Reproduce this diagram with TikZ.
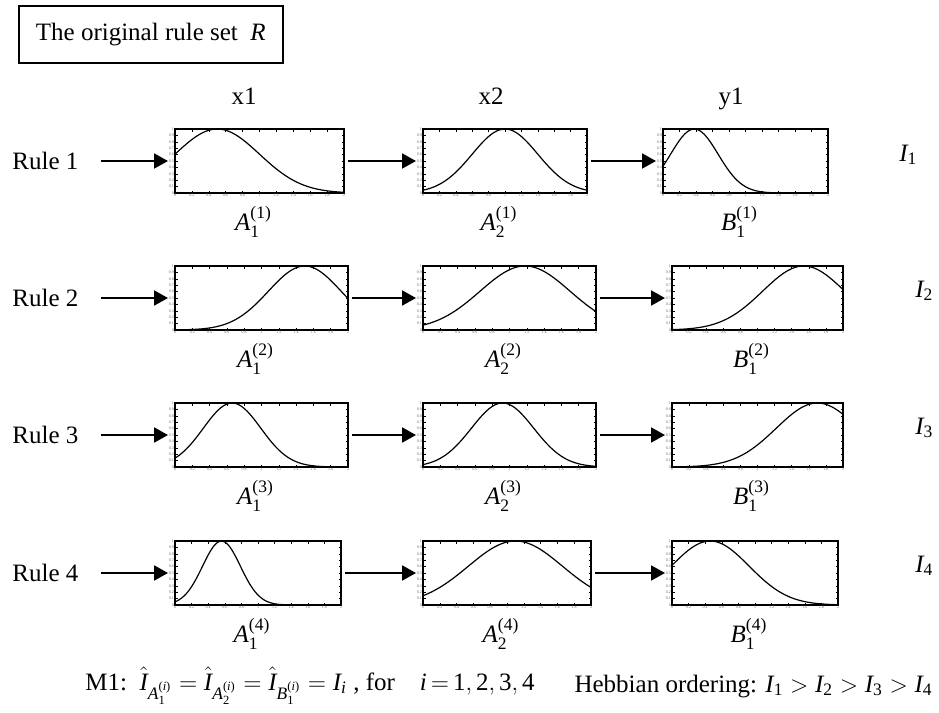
\documentclass[tikz,border=0pt]{standalone}
\usepackage{amsmath}
\usepackage{fontspec}
\setmainfont{Liberation Serif}
\usetikzlibrary{positioning,calc,arrows.meta}
\tikzset{>={Triangle[length=7pt,width=7.5pt]}}
\tikzset{plotframe/.style={line width=0.9pt}}
\tikzset{gcurve/.style={line width=0.6pt}}
\tikzset{flow/.style={->,line width=1pt}}
\tikzset{lbl/.style={font=\fontsize{12.5}{15}\selectfont,inner sep=0pt}}
\tikzset{ticklbl/.style={font=\fontsize{2}{2}\selectfont,text=black!60,inner sep=0.4pt}}
\newcommand{\tv}[1]{\text{\itshape #1}}
\newcommand{\tr}[1]{\text{#1}}

% #1 name, #2 left, #3 right, #4 top, #5 peak, #6 spread, #7 label
\newcommand{\mfplot}[7]{%
  \draw[plotframe] (#2,#4) rectangle (#3,#4+64);
  \foreach \k in {1,...,9}{
    \draw[line width=0.3pt] ({#2+(#3-#2)*\k/10},#4) -- ++(0,2.5) ({#2+(#3-#2)*\k/10},#4+64) -- ++(0,-2.5);
    \draw[line width=0.3pt] (#2,{#4+6.4*\k}) -- ++(2.5,0) (#3,{#4+6.4*\k}) -- ++(-2.5,0);
  }
  \foreach \t [count=\k from 0] in {0,0.2,0.4,0.6,0.8,1,1.2,1.4,1.6,1.8,2}
    \node[ticklbl,below] (#1-x\k) at ({#2+(#3-#2)*\k/10},#4+64) {\t};
  \foreach \t [count=\k from 0] in {1,0.9,0.8,0.7,0.6,0.5,0.4,0.3,0.2,0.1,0}
    \node[ticklbl,left] (#1-y\k) at (#2,{#4+6.4*\k}) {\t};
  \draw[gcurve] plot[domain=0:1,samples=61,smooth]
    ({#2+(#3-#2)*\x},{#4+64*(1-exp(-(\x-#5)*(\x-#5)/(2*#6*#6)))});
  \coordinate (#1-in) at (#2-7,#4+32);
  \coordinate (#1-out) at (#3+4,#4+32);
  \node[lbl] (#1-lab) at ({(#2+#3)/2-6},#4+93) {#7};
}

\begin{document}
\begin{tikzpicture}[x=0.5pt,y=-0.5pt]
\useasboundingbox (0,0) rectangle (939,713);

\node[draw,line width=0.9pt,lbl,anchor=west,minimum height=28.5pt,inner xsep=8.5pt] (title) at (18,34.5) {The original rule set\ \ $\tv{R}$};

\node[lbl,anchor=base] (hx1) at (244,104) {x1};
\node[lbl,anchor=base] (hx2) at (491,104) {x2};
\node[lbl,anchor=base] (hy1) at (731,104) {y1};

% rule 1
\mfplot{p11}{175}{344}{129}{0.25}{0.25}{$\tv{A}_{\tr{1}}^{\tr{(1)}}$}
\mfplot{p12}{423}{587}{129}{0.5}{0.2}{$\tv{A}_{\tr{2}}^{\tr{(1)}}$}
\mfplot{p13}{663}{828}{129}{0.19}{0.144}{$\tv{B}_{\tr{1}}^{\tr{(1)}}$}
% rule 2
\mfplot{p21}{175}{348}{266}{0.75}{0.21}{$\tv{A}_{\tr{1}}^{\tr{(2)}}$}
\mfplot{p22}{423}{596}{266}{0.59}{0.26}{$\tv{A}_{\tr{2}}^{\tr{(2)}}$}
\mfplot{p23}{672}{843}{266}{0.77}{0.24}{$\tv{B}_{\tr{1}}^{\tr{(2)}}$}
% rule 3
\mfplot{p31}{175}{348}{403}{0.33}{0.166}{$\tv{A}_{\tr{1}}^{\tr{(3)}}$}
\mfplot{p32}{423}{596}{403}{0.46}{0.18}{$\tv{A}_{\tr{2}}^{\tr{(3)}}$}
\mfplot{p33}{672}{843}{403}{0.85}{0.24}{$\tv{B}_{\tr{1}}^{\tr{(3)}}$}
% rule 4
\mfplot{p41}{175}{341}{541}{0.28}{0.114}{$\tv{A}_{\tr{1}}^{\tr{(4)}}$}
\mfplot{p42}{423}{591}{541}{0.55}{0.28}{$\tv{A}_{\tr{2}}^{\tr{(4)}}$}
\mfplot{p43}{672}{838}{541}{0.23}{0.235}{$\tv{B}_{\tr{1}}^{\tr{(4)}}$}

\node[lbl,anchor=west] (rule1) at (12,161) {Rule 1};
\node[lbl,anchor=west] (rule2) at (12,298) {Rule 2};
\node[lbl,anchor=west] (rule3) at (12,435) {Rule 3};
\node[lbl,anchor=west] (rule4) at (12,573) {Rule 4};

\foreach \r in {1,...,4}{
  \draw[flow] ([xshift=11pt]rule\r.east) -- (p\r1-in);
  \draw[flow] (p\r1-out) -- (p\r2-in);
  \draw[flow] (p\r2-out) -- (p\r3-in);
}

\node[lbl,anchor=base west] (imp1) at (899,161) {$\tv{I}_{\tr{1}}$};
\node[lbl,anchor=base west] (imp2) at (915,297) {$\tv{I}_{\tr{2}}$};
\node[lbl,anchor=base west] (imp3) at (915,434) {$\tv{I}_{\tr{3}}$};
\node[lbl,anchor=base west] (imp4) at (915,572) {$\tv{I}_{\tr{4}}$};

\node[lbl,anchor=base west] (m1) at (85,690) {M1:\ \ $\hat{\tv{I}}_{\tv{A}_{\tr{1}}^{\tr{(}\tv{i}\tr{)}}} = \hat{\tv{I}}_{\tv{A}_{\tr{2}}^{\tr{(}\tv{i}\tr{)}}} = \hat{\tv{I}}_{\tv{B}_{\tr{1}}^{\tr{(}\tv{i}\tr{)}}} = \tv{I}_{\tv{i}}$\ , for\quad $\tv{i}\,{=}\,\tr{1},\tr{2},\tr{3},\tr{4}$};
\node[lbl,anchor=base east] (hebb) at (933,692) {Hebbian ordering: $\tv{I}_{\tr{1}} > \tv{I}_{\tr{2}} > \tv{I}_{\tr{3}} > \tv{I}_{\tr{4}}$};
\end{tikzpicture}
\end{document}
